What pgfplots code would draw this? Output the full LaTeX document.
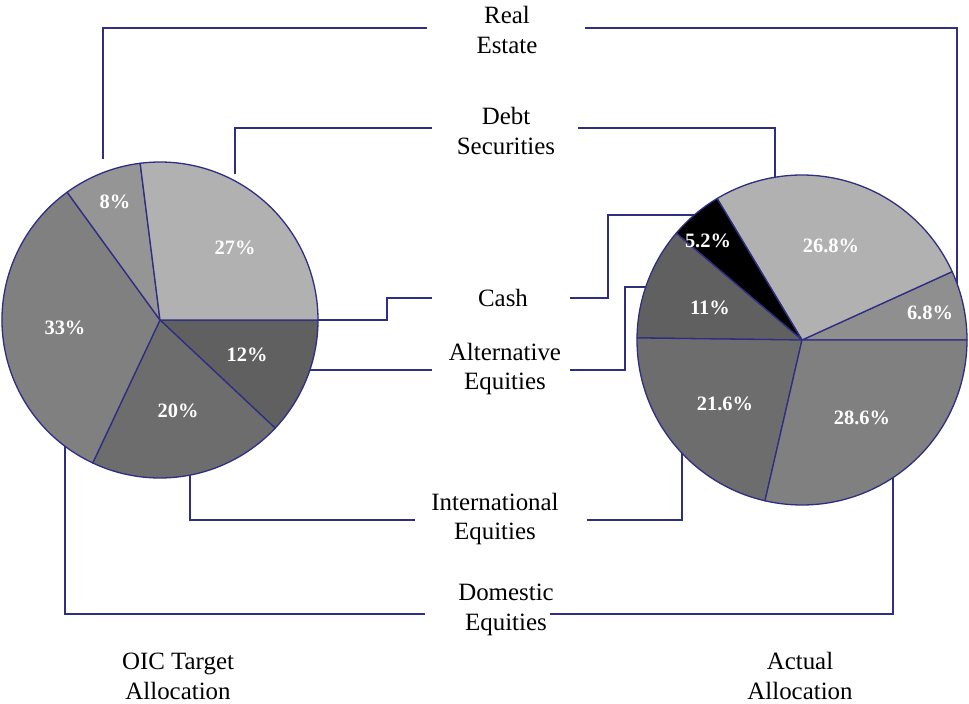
\documentclass[border=0pt]{standalone}
\usepackage{pgfplots}
\pgfplotsset{compat=1.18}
\usepackage{fontspec}
\setmainfont{Liberation Serif}
\definecolor{edge}{HTML}{2E2E82}
\definecolor{cA}{HTML}{B1B1B1}
\definecolor{cB}{HTML}{959595}
\definecolor{cC}{HTML}{808080}
\definecolor{cD}{HTML}{6D6D6D}
\definecolor{cE}{HTML}{606060}
\definecolor{cF}{HTML}{8F8F8F}
% #1 cx, #2 cy, #3 r, #4 cumulative start (%), #5 share (%), #6 direction, #7 colour
\newcommand{\slice}[7]{%
  \filldraw[fill=#7, draw=edge, line width=1.3bp, line join=round]
    (axis cs:#1,#2) -- ++({#6*#4*3.6}:#3bp)
    arc[start angle={#6*#4*3.6}, end angle={#6*(#4+#5)*3.6}, radius=#3bp] -- cycle;}
\newcommand{\plab}[3]{\node[text=white, font=\fontsize{20.5}{24}\selectfont\bfseries, inner sep=0pt] at (axis cs:#1,#2) {#3};}
\newcommand{\clab}[3]{\node[align=center, font=\fontsize{25}{30}\selectfont, inner sep=0pt] at (axis cs:#1,#2) {#3};}
\begin{document}
\begin{tikzpicture}
\useasboundingbox (0,0) rectangle (969bp,704bp);
\begin{axis}[at={(0,0)}, anchor=south west, hide axis, x=1bp, y=1bp, xmin=0, xmax=969, ymin=0, ymax=704, clip=false]
% connectors
\draw[edge, line width=1.3bp]
  (axis cs:103,545) -- (axis cs:103,676) -- (axis cs:427,676)
  (axis cs:585,676) -- (axis cs:957,676) -- (axis cs:957,420)
  (axis cs:235,530) -- (axis cs:235,576) -- (axis cs:432,576)
  (axis cs:578,576) -- (axis cs:775,576) -- (axis cs:775,520)
  (axis cs:310,384) -- (axis cs:387,384) -- (axis cs:387,406) -- (axis cs:432,406)
  (axis cs:570,406) -- (axis cs:608,406) -- (axis cs:608,489) -- (axis cs:700,489)
  (axis cs:300,334) -- (axis cs:432,334)
  (axis cs:570,334) -- (axis cs:625,334) -- (axis cs:625,417) -- (axis cs:660,417)
  (axis cs:190,240) -- (axis cs:190,184) -- (axis cs:415,184)
  (axis cs:587,184) -- (axis cs:682,184) -- (axis cs:682,262)
  (axis cs:65,270) -- (axis cs:65,90) -- (axis cs:425,90)
  (axis cs:550,90) -- (axis cs:893,90) -- (axis cs:893,236);
% left pie: OIC target (clockwise from 0 deg)
\slice{160}{384}{158}{0}{12}{-1}{cE}
\slice{160}{384}{158}{12}{20}{-1}{cD}
\slice{160}{384}{158}{32}{33}{-1}{cC}
\slice{160}{384}{158}{65}{8}{-1}{cB}
\slice{160}{384}{158}{73}{27}{-1}{cA}
% right pie: actual (counter-clockwise from 0 deg)
\slice{802}{364}{165}{0}{6.8}{1}{cF}
\slice{802}{364}{165}{6.8}{26.8}{1}{cA}
\slice{802}{364}{165}{33.6}{5.2}{1}{black}
\slice{802}{364}{165}{38.8}{11}{1}{cE}
\slice{802}{364}{165}{49.8}{21.6}{1}{cD}
\slice{802}{364}{165}{71.4}{28.6}{1}{cC}
% pie labels
\plab{235}{456}{27\%}
\plab{115}{502}{8\%}
\plab{65}{376}{33\%}
\plab{178}{293}{20\%}
\plab{247}{349}{12\%}
\plab{831}{458}{26.8\%}
\plab{708}{463}{5.2\%}
\plab{930}{391}{6.8\%}
\plab{710}{396}{11\%}
\plab{725}{300}{21.6\%}
\plab{862}{286}{28.6\%}
% category labels
\clab{507}{674}{Real\\Estate}
\clab{506}{573}{Debt\\Securities}
\clab{503}{406}{Cash}
\clab{505}{335}{Alternative\\Equities}
\clab{495}{185}{International\\Equities}
\clab{506}{94}{Domestic\\Equities}
\clab{178}{28}{OIC Target\\Allocation}
\clab{800}{28}{Actual\\Allocation}
\end{axis}
\end{tikzpicture}
\end{document}
